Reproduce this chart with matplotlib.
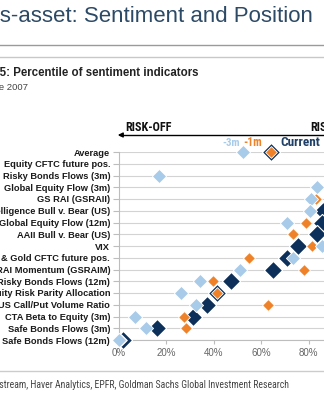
import matplotlib
matplotlib.use("Agg")
import matplotlib.pyplot as plt
from matplotlib import font_manager
from matplotlib.ticker import PercentFormatter
import numpy as np

# Indicators, top row first
categories = [
    "Average",
    "Equity CFTC future pos.",
    "Risky Bonds Flows (3m)",
    "Global Equity Flow (3m)",
    "GS RAI (GSRAII)",
    "Investors Intelligence Bull v. Bear (US)",
    "Global Equity Flow (12m)",
    "AAII Bull v. Bear (US)",
    "VIX",
    "Copper & Gold CFTC future pos.",
    "GS RAI Momentum (GSRAIM)",
    "Risky Bonds Flows (12m)",
    "Equity Risk Parity Allocation",
    "US Call/Put Volume Ratio",
    "CTA Beta to Equity (3m)",
    "Safe Bonds Flows (3m)",
    "Safe Bonds Flows (12m)",
]

# Percentile of each indicator (0-1)
current = [0.64, 0.97, 0.95, 0.93, 0.92, 0.86, 0.855, 0.835, 0.757, 0.708,
           0.65, 0.474, 0.415, 0.372, 0.313, 0.162, 0.02]
one_month = [0.64, 0.99, 0.90, 0.95, 0.83, 0.90, 0.79, 0.734, 0.815, 0.55,
             0.78, 0.397, 0.415, 0.63, 0.276, 0.284, 0.01]
three_month = [0.524, 0.93, 0.17, 0.836, 0.81, 0.806, 0.709, 0.92, 0.857, 0.735,
               0.512, 0.344, 0.264, 0.326, 0.069, 0.116, 0.0]

NAVY = "#0c3059"
ORANGE = "#ef8228"
LIGHT = "#a9cbea"
SANS = "Liberation Sans"

W, H = 324, 400


def fx(x):
    return x / W


def fy(y):
    return 1 - y / H


def narrow_font():
    """Pick a condensed sans if one is installed, else plain Liberation Sans"""
    names = {f.name for f in font_manager.fontManager.ttflist}
    for name in ("Roboto Condensed", "Liberation Sans Narrow", "Open Sans Condensed"):
        if name in names:
            return name
    return SANS


NARROW = narrow_font()

fig = plt.figure(figsize=(W / 100, H / 100), dpi=100)
fig.patch.set_facecolor("white")

# Header
fig.text(fx(313), fy(17), "Cross-asset: Sentiment and Position", ha="right", va="center",
         fontsize=16, color="#2c4a66", family=SANS)
fig.add_artist(plt.Line2D([0, 1], [fy(45), fy(45)], color="#9a9a9a", lw=1.0))
fig.add_artist(plt.Line2D([0, 1], [fy(57), fy(57)], color="#c8c8c8", lw=1.0))
fig.text(fx(198), fy(73), "Exhibit 5: Percentile of sentiment indicators", ha="right", va="center",
         fontsize=8.3, fontweight="bold", color="#222222", family=SANS)
fig.text(fx(28), fy(88), "Data since June 2007", ha="right", va="center",
         fontsize=6.8, color="#444444", family=SANS)

# Chart area
ax = fig.add_axes([fx(118.5), fy(340), 237.5 / W, 188 / H])
n = len(categories)
ypos = np.arange(n)[::-1]

ax.scatter(current, ypos, marker="D", s=85, color=NAVY, edgecolor="white",
           linewidth=0.8, zorder=3, clip_on=False)
ax.scatter(one_month, ypos, marker="D", s=36, color=ORANGE, edgecolor="white",
           linewidth=0.6, zorder=4, clip_on=False)
ax.scatter(three_month, ypos, marker="D", s=52, color=LIGHT, edgecolor="white",
           linewidth=0.6, zorder=5, clip_on=False)

ax.set_xlim(0, 1)
ax.set_ylim(0, n - 1)
ax.set_yticks(ypos)
ax.set_yticklabels(categories, fontsize=6.7, fontweight="bold", color="#1a1a1a", family=SANS)
ax.set_xticks([0, 0.2, 0.4, 0.6, 0.8, 1.0])
ax.xaxis.set_major_formatter(PercentFormatter(1.0, decimals=0))
for lbl in ax.get_xticklabels():
    lbl.set_family(SANS)
    lbl.set_fontsize(7)
    lbl.set_color("#666666")

ax.grid(axis="y", color="#d3d3d3", lw=0.8, zorder=0)
ax.tick_params(axis="y", length=4, width=0.8, color="#bdbdbd", pad=2)
ax.tick_params(axis="x", length=3, width=0.8, color="#bdbdbd", pad=3)
for side in ("top", "right"):
    ax.spines[side].set_visible(False)
for side in ("left", "bottom"):
    ax.spines[side].set_color("#bdbdbd")
    ax.spines[side].set_linewidth(0.8)

# Series labels next to the Average row
ax.text(0.512, n - 1 + 0.77, "-3m", ha="right", va="center", fontsize=7.8,
        fontweight="bold", color=LIGHT, clip_on=False, family=NARROW)
ax.text(0.527, n - 1 + 0.85, "-1m", ha="left", va="center", fontsize=8.3,
        fontweight="bold", color=ORANGE, clip_on=False, family=NARROW)
ax.text(0.68, n - 1 + 0.77, "Current", ha="left", va="center", fontsize=9.5,
        fontweight="bold", color="#1f3f66", clip_on=False, family=NARROW)

# Risk direction arrow
fig.add_artist(plt.Line2D([fx(120), 1.2], [fy(135), fy(135)], color="black", lw=1.0))
ax.annotate("", xy=(fx(115), fy(135)), xytext=(fx(125), fy(135)), xycoords="figure fraction",
            textcoords="figure fraction",
            arrowprops=dict(arrowstyle="-|>", color="black", lw=1.0, mutation_scale=7))
fig.text(fx(125), fy(127.5), "RISK-OFF", ha="left", va="center", fontsize=8.7,
         fontweight="bold", color="#111111", family=NARROW)
fig.text(fx(310), fy(127.5), "RISK-ON", ha="left", va="center", fontsize=8.7,
         fontweight="bold", color="#111111", family=NARROW)

# Footer
fig.add_artist(plt.Line2D([0, 1], [fy(371), fy(371)], color="#cccccc", lw=1.0))
fig.text(fx(289), fy(385), "Source: Datastream, Haver Analytics, EPFR, Goldman Sachs Global Investment Research",
         ha="right", va="center", fontsize=7, color="#444444", family=NARROW)

fig.savefig("out.png", dpi=100)
